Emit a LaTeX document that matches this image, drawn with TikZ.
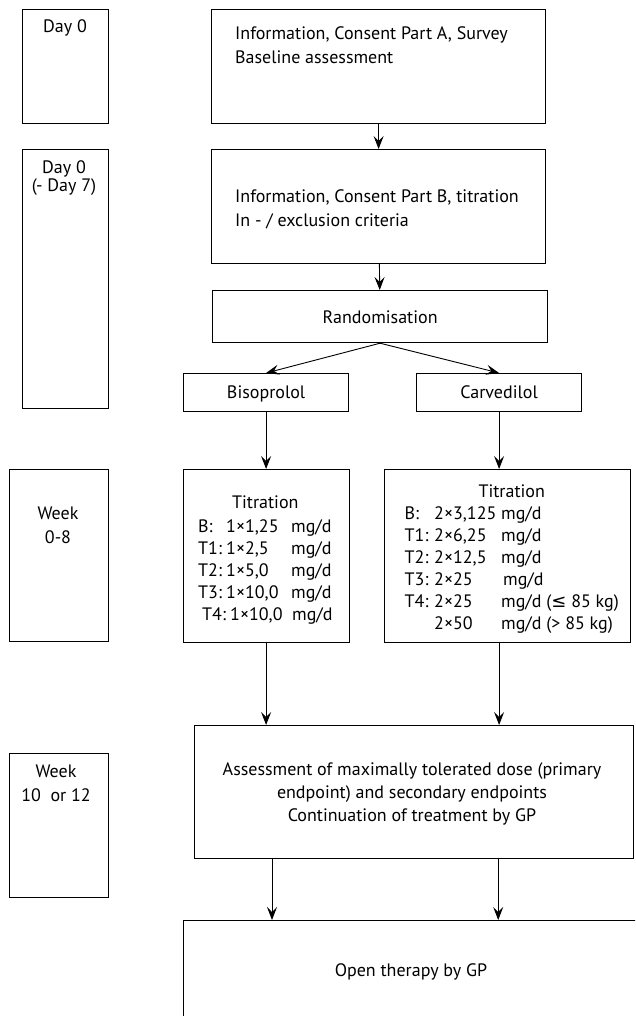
\documentclass[tikz,border=0pt]{standalone}
\usepackage{fontspec}
\setmainfont{PT Sans}
\newfontfamily\symbolfont{DejaVu Sans}
\usetikzlibrary{arrows.meta, positioning}

\tikzset{
  box/.style={draw, line width=1.2pt, inner sep=0pt, anchor=north west},
  lbl/.style={inner sep=0pt, font=\fontsize{18}{24}\selectfont},
  dose/.style={lbl, anchor=north west, font=\fontsize{18}{22}\selectfont},
  flow/.style={-{Stealth[length=13pt, width=10pt, inset=5pt]}, line width=0.9pt},
}

\begin{document}
\begin{tikzpicture}[x=1pt, y=-1pt]
\clip (0,0) rectangle (635,1016);

% The time column
\node [box, minimum width=86, minimum height=114] (day0) at (22,9) {};
\node [lbl, anchor=base] (day0txt) at (65,33) {Day 0};
\node [box, minimum width=86, minimum height=259] (day7) at (22,149) {};
\node [lbl, anchor=north, align=center, font=\fontsize{18}{18}\selectfont] (day7txt) at (64,160) {Day 0\\(- Day 7)};
\node [box, minimum width=99, minimum height=172] (week8) at (9,469) {};
\node [lbl, anchor=north, align=center] (week8txt) at (58,507) {Week\\0-8};
\node [box, minimum width=99, minimum height=144] (week12) at (9,753) {};
\node [lbl, anchor=north, align=center] (week12txt) at (56,765) {Week\\10\ \ or 12};

% Enrolment
\node [box, minimum width=334, minimum height=114] (infoA) at (211,9) {};
\node [lbl, anchor=north west, align=left] (infoAtxt) at (235,26) {Information, Consent Part A, Survey\\Baseline assessment};
\node [box, minimum width=334, minimum height=114] (infoB) at (211,149) {};
\node [lbl, anchor=north west, align=left] (infoBtxt) at (235,189) {Information, Consent Part B, titration\\In - / exclusion criteria};
\node [box, minimum width=335, minimum height=52] (rand) at (212,290) {};
\node [lbl, anchor=base] (randtxt) at (rand.center |- 0,323) {Randomisation};

% The two arms
\node [box, minimum width=165, minimum height=38] (bis) at (183,373) {};
\node [lbl, anchor=base] (bistxt) at (bis.center |- 0,398) {Bisoprolol};
\node [box, minimum width=165, minimum height=38] (car) at (416,373) {};
\node [lbl, anchor=base] (cartxt) at (car.center |- 0,398) {Carvedilol};

\node [box, minimum width=166, minimum height=173] (titB) at (183,469) {};
\node [dose] (titBtxt) at (198,492.6) {%
  \begin{tabular}{@{}p{28pt}@{}p{65pt}@{}l@{}}
    \multicolumn{3}{c}{Titration}\\[2pt]
    B: & 1×1,25 & mg/d\\
    T1: & 1×2,5 & mg/d\\
    T2: & 1×5,0 & mg/d\\
    T3: & 1×10,0 & mg/d\\
    \hspace*{4pt}T4: & \hspace*{4pt}1×10,0 & \hspace*{1pt}mg/d
  \end{tabular}};
\node [box, minimum width=246, minimum height=173] (titC) at (384,469) {};
\node [dose] (titCtxt) at (404.5,481.6) {%
  \begin{tabular}{@{}p{29.5pt}@{}p{67pt}@{}l@{}}
    \multicolumn{3}{c}{Titration}\\
    B: & 2×3,125 & mg/d\\
    T1: & 2×6,25 & mg/d\\
    T2: & 2×12,5 & mg/d\\
    T3: & 2×25 & \hspace*{2pt}mg/d\\
    T4: & 2×25 & mg/d ({\symbolfont ≤} 85 kg)\\
        & 2×50 & mg/d (> 85 kg)
  \end{tabular}};

% Follow-up
\node [box, minimum width=439, minimum height=133] (assess) at (194,725) {};
\node [lbl, anchor=north, align=center, font=\fontsize{18}{23}\selectfont] (assesstxt) at (412,762.5) {Assessment of maximally tolerated dose (primary\\endpoint) and secondary endpoints\\Continuation of treatment by GP};
\node [box, minimum width=457, minimum height=110] (open) at (183,920) {};
\node [lbl, anchor=base] (opentxt) at (411,976) {Open therapy by GP};

% Arrows
\draw [flow] (infoA) -- (infoB);
\draw [flow] (infoB) -- (rand);
\draw [flow] (rand.south) -- (bis.north);
\draw [flow] (rand.south) -- (car.north);
\draw [flow] (bis.south) -- (bis.south |- titB.north);
\draw [flow] (car.south) -- (car.south |- titC.north);
\draw [flow] (bis.south |- titB.south) -- (bis.south |- assess.north);
\draw [flow] (car.south |- titC.south) -- (car.south |- assess.north);
\coordinate (outL) at ([xshift=78pt]assess.south west);
\coordinate (outR) at ([xshift=-136pt]assess.south east);
\draw [flow] (outL) -- (outL |- open.north);
\draw [flow] (outR) -- (outR |- open.north);

\end{tikzpicture}
\end{document}
